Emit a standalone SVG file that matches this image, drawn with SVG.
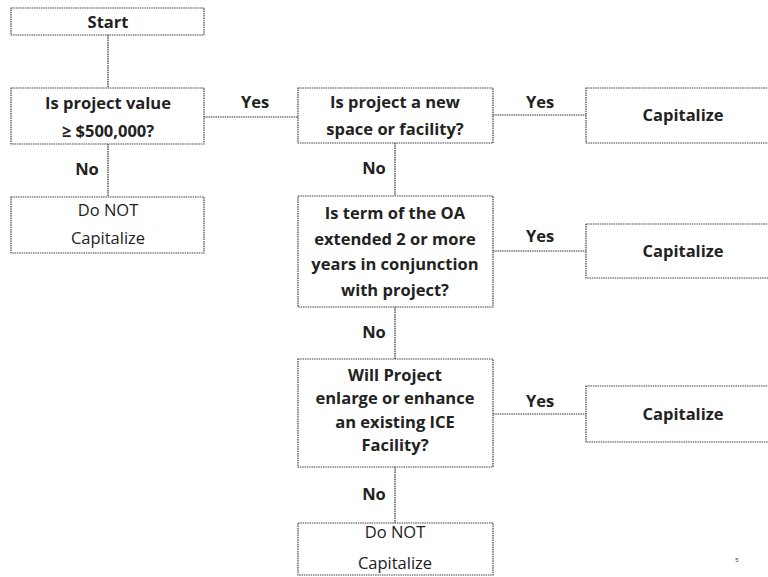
<svg xmlns="http://www.w3.org/2000/svg" width="768" height="577" viewBox="0 0 768 577">
<style>
.box{fill:#fff;stroke:#444;stroke-width:1.2;stroke-dasharray:1.5,0.8}
.ln{stroke:#333;stroke-width:1.2;stroke-dasharray:1.5,0.8;fill:none}
.t{font-family:"Open Sans","Liberation Sans",sans-serif;font-size:16.5px;font-weight:bold;fill:#222;text-anchor:middle}
.n{font-weight:normal}
</style>
<rect width="768" height="577" fill="#fff"/>
<g id="connectors">
<line class="ln" x1="108" y1="35" x2="108" y2="88"/>
<line class="ln" x1="204" y1="117" x2="298" y2="117"/>
<line class="ln" x1="108" y1="144" x2="108" y2="197"/>
<line class="ln" x1="493" y1="115" x2="586" y2="115"/>
<line class="ln" x1="395" y1="143" x2="395" y2="196"/>
<line class="ln" x1="493" y1="251" x2="586" y2="251"/>
<line class="ln" x1="395" y1="307" x2="395" y2="359"/>
<line class="ln" x1="493" y1="414" x2="586" y2="414"/>
<line class="ln" x1="395" y1="467" x2="395" y2="523"/>
<text class="t" x="255" y="108">Yes</text>
<text class="t" x="87" y="175">No</text>
<text class="t" x="540" y="108">Yes</text>
<text class="t" x="374" y="174">No</text>
<text class="t" x="540" y="242">Yes</text>
<text class="t" x="374" y="338">No</text>
<text class="t" x="540" y="407">Yes</text>
<text class="t" x="374" y="500">No</text>
</g>
<g id="start"><rect class="box" x="11" y="8" width="193" height="27"/><text class="t" x="108" y="28">Start</text></g>
<g id="q1"><rect class="box" x="11" y="88" width="193" height="56"/><text class="t" x="108" y="109">Is project value</text><text class="t" x="108" y="137">≥ $500,000?</text></g>
<g id="no1"><rect class="box" x="11" y="197" width="193" height="56"/><text class="t n" x="108" y="216">Do NOT</text><text class="t n" x="108" y="244">Capitalize</text></g>
<g id="q2"><rect class="box" x="298" y="88" width="195" height="55"/><text class="t" x="395" y="108">Is project a new</text><text class="t" x="395" y="135">space or facility?</text></g>
<g id="cap1"><rect class="box" x="586" y="88" width="194" height="55"/><text class="t" x="683" y="121">Capitalize</text></g>
<g id="q3"><rect class="box" x="298" y="196" width="195" height="111"/><text class="t" x="395" y="219">Is term of the OA</text><text class="t" x="395" y="245">extended 2 or more</text><text class="t" x="395" y="270">years in conjunction</text><text class="t" x="395" y="296">with project?</text></g>
<g id="cap2"><rect class="box" x="586" y="224" width="194" height="54"/><text class="t" x="683" y="257">Capitalize</text></g>
<g id="q4"><rect class="box" x="298" y="359" width="195" height="108"/><text class="t" x="395" y="381">Will Project</text><text class="t" x="395" y="404">enlarge or enhance</text><text class="t" x="395" y="428">an existing ICE</text><text class="t" x="395" y="451">Facility?</text></g>
<g id="cap3"><rect class="box" x="586" y="386" width="194" height="56"/><text class="t" x="683" y="420">Capitalize</text></g>
<g id="no2"><rect class="box" x="298" y="523" width="195" height="52"/><text class="t n" x="395" y="538">Do NOT</text><text class="t n" x="395" y="569">Capitalize</text></g>
<text x="737" y="562" font-family="Liberation Sans,sans-serif" font-size="6" fill="#444" text-anchor="middle">5</text>
</svg>
